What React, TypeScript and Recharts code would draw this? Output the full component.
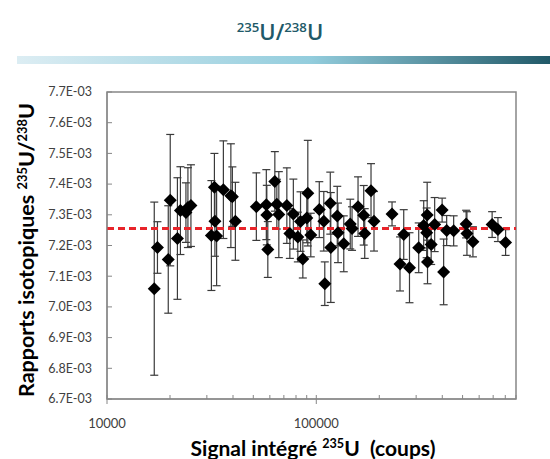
import React from "react";
import {
  ScatterChart,
  Scatter,
  XAxis,
  YAxis,
  ErrorBar,
  ReferenceLine,
  ReferenceArea,
} from "recharts";

// integrated 235U signal (counts)
const signal = [
  16820, 17420, 19620, 20050, 21700, 22430, 23830, 24360, 25180, 31540,
  32600, 32780, 33400, 35980, 39070, 39720, 41060, 51710, 57710, 58030,
  58670, 63380, 64790, 66220, 72330, 74760, 77690, 81630, 84080, 86240,
  91100, 90100, 94130, 103350, 108600, 109800, 116650, 117300, 125950, 127000,
  135300, 145300, 148200, 158300, 168500, 170400, 182600, 188700, 230100, 261700,
  251200, 278800, 308600, 326000, 338700, 336800, 340000, 353900, 367800, 399300,
  406000, 419700, 453300, 520000, 524600, 560300, 692100, 737700, 802700,
];

// 235U/238U ratios
const ratio = [
  7.0594e-3, 7.1935e-3, 7.1545e-3, 7.3477e-3, 7.2227e-3, 7.3136e-3, 7.3071e-3, 7.3234e-3, 7.3299e-3, 7.2325e-3,
  7.3899e-3, 7.2789e-3, 7.231e-3, 7.3818e-3, 7.3623e-3, 7.3591e-3, 7.2789e-3, 7.3266e-3, 7.3331e-3, 7.299e-3,
  7.187e-3, 7.4088e-3, 7.3347e-3, 7.3006e-3, 7.3299e-3, 7.239e-3, 7.3023e-3, 7.2276e-3, 7.2779e-3, 7.1562e-3,
  7.3705e-3, 7.2899e-3, 7.2341e-3, 7.3169e-3, 7.2789e-3, 7.0756e-3, 7.338e-3, 7.1935e-3, 7.2958e-3, 7.2412e-3,
  7.2055e-3, 7.2698e-3, 7.2552e-3, 7.3266e-3, 7.2984e-3, 7.239e-3, 7.3786e-3, 7.2789e-3, 7.3029e-3, 7.2357e-3,
  7.1399e-3, 7.1276e-3, 7.1925e-3, 7.2649e-3, 7.299e-3, 7.2412e-3, 7.1464e-3, 7.2032e-3, 7.2682e-3, 7.3153e-3,
  7.114e-3, 7.2487e-3, 7.2477e-3, 7.2698e-3, 7.239e-3, 7.212e-3, 7.2682e-3, 7.2519e-3, 7.2097e-3,
];

// uncertainty on each ratio
const uncertainty = [
  0.282e-3, 0.084e-3, 0.175e-3, 0.214e-3, 0.198e-3, 0.143e-3, 0.097e-3, 0.13e-3, 0.133e-3, 0.179e-3,
  0.11e-3, 0.114e-3, 0.162e-3, 0.159e-3, 0.169e-3, 0.097e-3, 0.127e-3, 0.11e-3, 0.114e-3, 0.097e-3,
  0.091e-3, 0.097e-3, 0.081e-3, 0.14e-3, 0.123e-3, 0.081e-3, 0.114e-3, 0.081e-3, 0.097e-3, 0.062e-3,
  0.172e-3, 0.081e-3, 0.071e-3, 0.091e-3, 0.097e-3, 0.071e-3, 0.101e-3, 0.179e-3, 0.097e-3, 0.097e-3,
  0.091e-3, 0.081e-3, 0.071e-3, 0.097e-3, 0.097e-3, 0.081e-3, 0.088e-3, 0.097e-3, 0.039e-3, 0.081e-3,
  0.088e-3, 0.114e-3, 0.081e-3, 0.081e-3, 0.107e-3, 0.081e-3, 0.071e-3, 0.065e-3, 0.088e-3, 0.039e-3,
  0.107e-3, 0.049e-3, 0.049e-3, 0.045e-3, 0.071e-3, 0.049e-3, 0.042e-3, 0.039e-3, 0.042e-3,
];

const referenceRatio = 7.255e-3;

const xTicks = [
  10000, 20000, 30000, 40000, 50000, 60000, 70000, 80000, 90000,
  100000, 200000, 300000, 400000, 500000, 600000, 700000, 800000, 900000,
];
const xLabels = [10000, 100000];
const yTicks = [
  6.7e-3, 6.8e-3, 6.9e-3, 7.0e-3, 7.1e-3, 7.2e-3, 7.3e-3, 7.4e-3, 7.5e-3, 7.6e-3, 7.7e-3,
];

const data = signal.map((s, i) => ({ signal: s, ratio: ratio[i], err: uncertainty[i] }));

const AXIS = "#868686";
const FONT = "Lato, 'Open Sans', sans-serif";

const XTick = (props: any) => {
  const { x, y, payload } = props;
  const major = xLabels.includes(payload.value);
  return (
    <g>
      {major ? (
        <line x1={x} y1={y - 4} x2={x} y2={y + 5} stroke={AXIS} />
      ) : (
        <line x1={x} y1={y} x2={x} y2={y - 4} stroke={AXIS} />
      )}
      {major && (
        <text x={x} y={y + 29} textAnchor="middle" fill="#404040" fontSize={13} fontFamily={FONT}>
          {payload.value}
        </text>
      )}
    </g>
  );
};

const YTick = (props: any) => {
  const { x, y, payload } = props;
  return (
    <g>
      <line x1={x} y1={y} x2={x + 5} y2={y} stroke={AXIS} />
      <text x={x - 15} y={y} dy="0.35em" textAnchor="end" fill="#404040" fontSize={12.5} fontFamily={FONT}>
        {(payload.value * 1000).toFixed(1) + "E-03"}
      </text>
    </g>
  );
};

// square diamond like Excel's marker
const Diamond = (props: any) => {
  const { cx, cy } = props;
  const r = 6.5;
  return (
    <polygon
      points={`${cx},${cy - r} ${cx + r},${cy} ${cx},${cy + r} ${cx - r},${cy}`}
      fill="#000"
    />
  );
};

const supStyle: React.CSSProperties = { fontSize: "0.6em", verticalAlign: "0.6em" };

export default function App() {
  return (
    <div style={{ position: "absolute", left: 0, top: 0, width: 550, height: 459, background: "#fff", overflow: "hidden" }}>
      <div
        style={{
          position: "absolute",
          left: 0,
          width: 560,
          top: 14,
          textAlign: "center",
          color: "#215968",
          fontFamily: "'Open Sans', sans-serif",
          fontWeight: 600,
          fontSize: 22,
          lineHeight: "26px",
          whiteSpace: "nowrap",
        }}
      >
        <span style={supStyle}>235</span>U/<span style={supStyle}>238</span>U
      </div>
      <div
        style={{
          position: "absolute",
          left: 17,
          top: 56,
          width: 533,
          height: 8,
          background: "linear-gradient(to right, #dcedf3, #93cddd 55%, #215968)",
        }}
      />
      <div
        style={{
          position: "absolute",
          left: 24,
          top: 250,
          transform: "translate(-50%, -50%) rotate(-90deg)",
          fontFamily: FONT,
          fontWeight: 700,
          fontSize: 21.5,
          lineHeight: "24px",
          color: "#000",
          whiteSpace: "nowrap",
        }}
      >
        Rapports isotopiques <span style={supStyle}>235</span>U/<span style={supStyle}>238</span>U
      </div>
      <div
        style={{
          position: "absolute",
          left: 0,
          width: 626,
          top: 432,
          textAlign: "center",
          fontFamily: FONT,
          fontWeight: 700,
          fontSize: 21,
          lineHeight: "24px",
          color: "#000",
          whiteSpace: "nowrap",
        }}
      >
        Signal intégré <span style={supStyle}>235</span>U&nbsp; (coups)
      </div>
      <div style={{ position: "absolute", left: 0, top: 0 }}>
        <ScatterChart width={550} height={459} margin={{ top: 92, right: 34, left: 0, bottom: 0 }}>
          <XAxis
            type="number"
            dataKey="signal"
            scale="log"
            domain={[10000, 900000]}
            allowDataOverflow
            ticks={xTicks}
            interval={0}
            tick={<XTick />}
            tickLine={false}
            tickSize={0}
            tickMargin={0}
            height={60}
            axisLine={{ stroke: AXIS }}
          />
          <YAxis
            type="number"
            dataKey="ratio"
            domain={[6.7e-3, 7.7e-3]}
            allowDataOverflow
            ticks={yTicks}
            interval={0}
            tick={<YTick />}
            tickLine={false}
            tickSize={0}
            tickMargin={0}
            width={107}
            axisLine={{ stroke: AXIS }}
          />
          <ReferenceArea
            x1={10000}
            x2={900000}
            y1={6.7e-3}
            y2={7.7e-3}
            fill="none"
            stroke={AXIS}
            strokeWidth={1.5}
            ifOverflow="visible"
          />
          <Scatter data={data} fill="#000" shape={<Diamond />} isAnimationActive={false}>
            <ErrorBar dataKey="err" direction="y" width={4} stroke="#3a3a3a" strokeWidth={1.2} />
          </Scatter>
          <ReferenceLine
            y={referenceRatio}
            stroke="#e8242a"
            strokeWidth={3}
            strokeDasharray="7 4"
            ifOverflow="visible"
          />
        </ScatterChart>
      </div>
    </div>
  );
}
